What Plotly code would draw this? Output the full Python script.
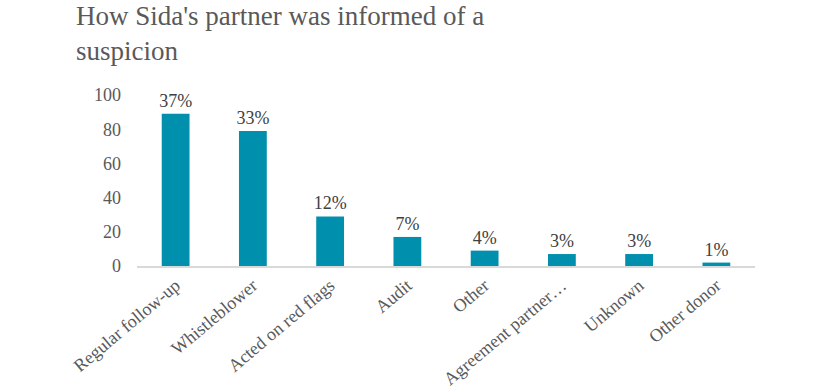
import plotly.graph_objects as go

categories = ["Regular follow-up", "Whistleblower", "Acted on red flags", "Audit",
              "Other", "Agreement partner…", "Unknown", "Other donor"]
values = [89, 79, 29, 17, 9, 7, 7, 2]
pct_labels = ["37%", "33%", "12%", "7%", "4%", "3%", "3%", "1%"]
y_ticks = [0, 20, 40, 60, 80, 100]

FONT = "Liberation Serif, Times New Roman, serif"
L, R, T, B = 137, 75, 95, 126
W, H = 830, 392
ph = H - T - B
pw = W - L - R

fig = go.Figure(go.Bar(
    x=categories, y=values, text=pct_labels,
    textposition="outside", constraintext="none", cliponaxis=False,
    textfont=dict(family=FONT, size=18, color="#404040"),
    marker=dict(color="#0090AD", line=dict(width=0)),
    hoverinfo="skip",
))

fig.add_annotation(
    text="How Sida's partner was informed of a<br>suspicion",
    xref="paper", yref="paper",
    x=(74 - L) / pw, y=(H - B + 1) / ph,
    xanchor="left", yanchor="top", align="left", showarrow=False,
    font=dict(family=FONT, size=27, color="#595959"),
)

fig.update_layout(
    width=W, height=H,
    margin=dict(l=L, r=R, t=T, b=B, autoexpand=False),
    paper_bgcolor="white", plot_bgcolor="white",
    bargap=0.64,
    showlegend=False,
    xaxis=dict(showline=True, linecolor="#D9D9D9", linewidth=2,
               ticks="", tickangle=-40, automargin=False,
               tickfont=dict(family=FONT, size=18, color="#595959"),
               showgrid=False, zeroline=False, fixedrange=True),
    yaxis=dict(range=[0, 100], tickvals=y_ticks, showgrid=False, zeroline=False,
               showline=False, ticks="", ticklabelstandoff=15, automargin=False,
               tickfont=dict(family=FONT, size=18, color="#595959"),
               fixedrange=True),
)

fig.write_html("out.html")
